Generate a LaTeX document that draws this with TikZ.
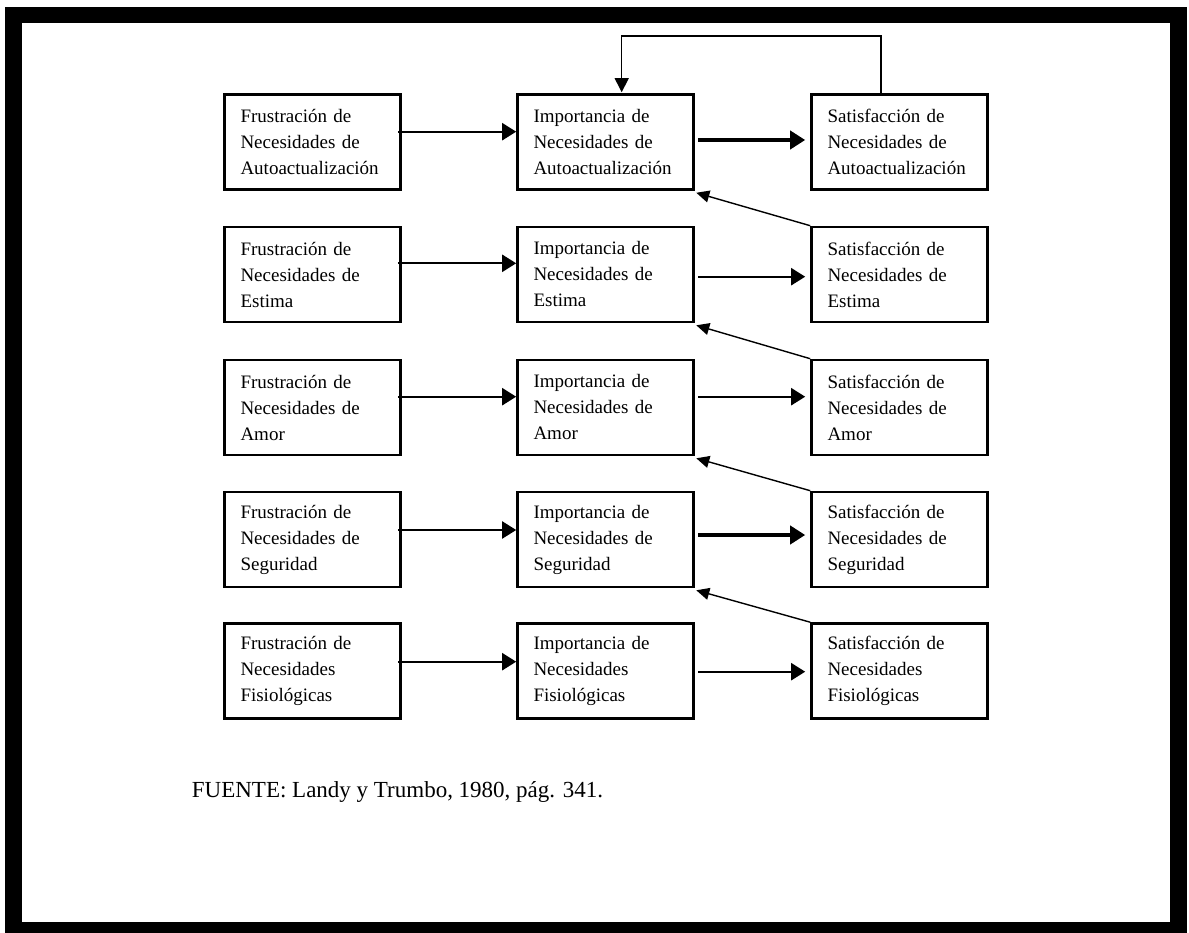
\documentclass[tikz,border=0pt]{standalone}
\usepackage{fontspec}
\setmainfont{Liberation Serif}
\usetikzlibrary{arrows.meta,calc}

\tikzset{
  needbox/.style={draw=black, line width=2.6pt, minimum width=176pt, minimum height=95pt,
    text width=144pt, inner xsep=0pt, align=left,
    font=\fontsize{19}{26}\selectfont},
  thinarrow/.style={line width=2.1pt, -{Triangle[length=14pt,width=17pt]}},
  thickarrow/.style={line width=4pt, -{Triangle[length=15pt,width=18pt]}},
  backarrow/.style={line width=1.4pt, -{Triangle[length=13pt,width=12pt]}},
  looparrow/.style={line width=1.3pt, -{Triangle[length=14pt,width=14pt]}}
}

\begin{document}
\begin{tikzpicture}[x=1pt,y=-1pt]
  % page and thick black frame
  \useasboundingbox (0,0) rectangle (1189,933);
  \fill[black] (5,7) rectangle (1187,933);
  \fill[white] (21.5,22.7) rectangle (1170,921.7);

  % column x positions
  \def\cf{312.5}\def\ci{605.5}\def\cs{899.5}

  % row 1: autoactualizacion
  \node[needbox] (f1) at (\cf,142) {Frustración de\\Necesidades de\\Autoactualización};
  \node[needbox] (i1) at (\ci,142) {Importancia de\\Necesidades de\\Autoactualización};
  \node[needbox] (s1) at (\cs,142) {Satisfacción de\\Necesidades de\\Autoactualización};
  % row 2: estima
  \node[needbox] (f2) at (\cf,274.5) {Frustración de\\Necesidades de\\Estima};
  \node[needbox] (i2) at (\ci,274.5) {Importancia de\\Necesidades de\\Estima};
  \node[needbox] (s2) at (\cs,274.5) {Satisfacción de\\Necesidades de\\Estima};
  % row 3: amor
  \node[needbox] (f3) at (\cf,407.5) {Frustración de\\Necesidades de\\Amor};
  \node[needbox] (i3) at (\ci,407.5) {Importancia de\\Necesidades de\\Amor};
  \node[needbox] (s3) at (\cs,407.5) {Satisfacción de\\Necesidades de\\Amor};
  % row 4: seguridad
  \node[needbox] (f4) at (\cf,539.5) {Frustración de\\Necesidades de\\Seguridad};
  \node[needbox] (i4) at (\ci,539.5) {Importancia de\\Necesidades de\\Seguridad};
  \node[needbox] (s4) at (\cs,539.5) {Satisfacción de\\Necesidades de\\Seguridad};
  % row 5: fisiologicas
  \node[needbox] (f5) at (\cf,671) {Frustración de\\Necesidades\\Fisiológicas};
  \node[needbox] (i5) at (\ci,671) {Importancia de\\Necesidades\\Fisiológicas};
  \node[needbox] (s5) at (\cs,671) {Satisfacción de\\Necesidades\\Fisiológicas};

  % frustration -> importance
  \draw[thinarrow] ($(f1.east)+(-4,-10.3)$) -- ($(i1.west)+(0,-10.3)$);
  \draw[thinarrow] ($(f2.east)+(-4,-11.2)$) -- ($(i2.west)+(0,-11.2)$);
  \draw[thinarrow] ($(f3.east)+(-4,-10.8)$) -- ($(i3.west)+(0,-10.8)$);
  \draw[thinarrow] ($(f4.east)+(-4,-9.5)$) -- ($(i4.west)+(0,-9.5)$);
  \draw[thinarrow] ($(f5.east)+(-4,-9.3)$) -- ($(i5.west)+(0,-9.3)$);

  % importance -> satisfaction
  \draw[thickarrow] ($(i1.east)+(3.5,-2)$) -- ($(s1.west)+(-5,-2)$);
  \draw[thinarrow]  ($(i2.east)+(3.5,2.2)$) -- ($(s2.west)+(-5,2.2)$);
  \draw[thinarrow]  ($(i3.east)+(3.5,-10.8)$) -- ($(s3.west)+(-5,-10.8)$);
  \draw[thickarrow] ($(i4.east)+(3.5,-4.5)$) -- ($(s4.west)+(-5,-4.5)$);
  \draw[thinarrow]  ($(i5.east)+(3.5,0.7)$) -- ($(s5.west)+(-5,0.7)$);

  % satisfaction of a lower need -> importance of the next higher need
  \draw[backarrow] (s2.north west) -- ($(i1.south east)+(1.5,2)$);
  \draw[backarrow] (s3.north west) -- ($(i2.south east)+(1.5,2)$);
  \draw[backarrow] (s4.north west) -- ($(i3.south east)+(1.5,2)$);
  \draw[backarrow] (s5.north west) -- ($(i4.south east)+(1.5,2)$);

  % feedback loop at the top
  \draw[looparrow] ($(s1.north)+(-18.5,0)$) -- ++(0,-57.2) -| ($(i1.north)+(16.2,-1)$);

  % source
  \node[anchor=base west, inner sep=0pt, font=\fontsize{23}{27}\selectfont] (src) at (191.7,797.3)
    {FUENTE: Landy y Trumbo, 1980, pág. 341.};
\end{tikzpicture}
\end{document}
